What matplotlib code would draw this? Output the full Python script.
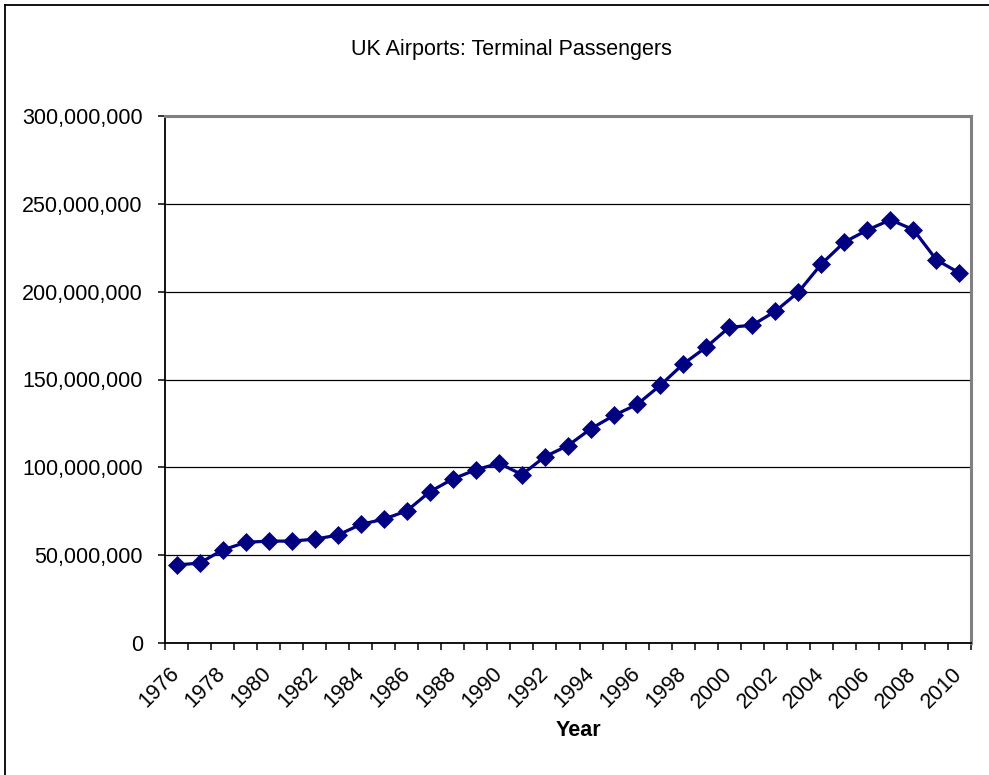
import numpy as np
import matplotlib.pyplot as plt
from matplotlib.ticker import FuncFormatter, FixedLocator
from matplotlib.lines import Line2D

plt.rcParams['font.family'] = ['Liberation Sans', 'DejaVu Sans']

years = list(range(1976, 2011))
passengers = [44.4, 45.5, 52.9, 57.3, 58.0, 58.0, 59.1, 61.4, 67.5, 70.5,
              75.2, 86.1, 93.4, 98.6, 102.3, 95.9, 106.1, 112.4, 122.0, 129.6,
              135.8, 146.6, 158.8, 168.4, 179.7, 180.9, 188.8, 199.7, 215.7, 228.2,
              235.1, 240.9, 235.3, 218.1, 210.6]
passengers = np.array(passengers) * 1e6

title = 'UK Airports: Terminal Passengers'
x_title = 'Year'

fig = plt.figure(figsize=(9.89, 7.75), dpi=100)
ax = fig.add_axes([165 / 989, 1 - 643 / 775, (971 - 165) / 989, (643 - 116) / 775])

x = np.arange(len(years))
ax.plot(x, passengers, color='#000080', lw=2.3, marker='D', markersize=9.3,
        markeredgewidth=0.5, zorder=3, clip_on=False)

ax.set_xlim(-0.5, len(years) - 0.5)
ax.set_ylim(0, 300e6)
ax.set_yticks(np.arange(0, 300e6 + 1, 50e6))
ax.yaxis.set_major_formatter(FuncFormatter(lambda v, p: f'{int(v):,}'))
ax.yaxis.grid(True, color='black', lw=0.9)
ax.set_axisbelow(True)

# category axis: ticks between categories, labels every other year
ax.xaxis.set_minor_locator(FixedLocator(np.arange(-0.5, len(years), 1.0)))
ax.set_xticks(x[::2])
ax.set_xticklabels([str(y) for y in years[::2]], rotation=45, ha='right',
                   va='center', rotation_mode='anchor')
ax.tick_params(axis='x', which='major', length=0, pad=20, labelsize=15.5)
ax.tick_params(axis='x', which='minor', length=5, width=1.1, direction='out')
ax.tick_params(axis='y', length=5, width=1.1, direction='out', pad=11, labelsize=15.5)

for s in ['left', 'bottom']:
    ax.spines[s].set_color('black')
    ax.spines[s].set_linewidth(1.3)
for s in ['top', 'right']:
    ax.spines[s].set_color('#808080')
    ax.spines[s].set_linewidth(2.2)

fig.text(511 / 989, 1 - 49 / 775, title, ha='center', va='center', fontsize=15.5)
fig.text(578 / 989, 1 - 730 / 775, x_title, ha='center', va='center',
         fontsize=15.5, fontweight='bold')

# outer chart border (only left and top edges fall within the image)
fig.add_artist(Line2D([4.5 / 989, 4.5 / 989], [0, 1 - 5 / 775], color='black', lw=1.3))
fig.add_artist(Line2D([4.5 / 989, 1], [1 - 5 / 775, 1 - 5 / 775], color='black', lw=1.3))

fig.savefig('out.png', dpi=100, facecolor='white')
